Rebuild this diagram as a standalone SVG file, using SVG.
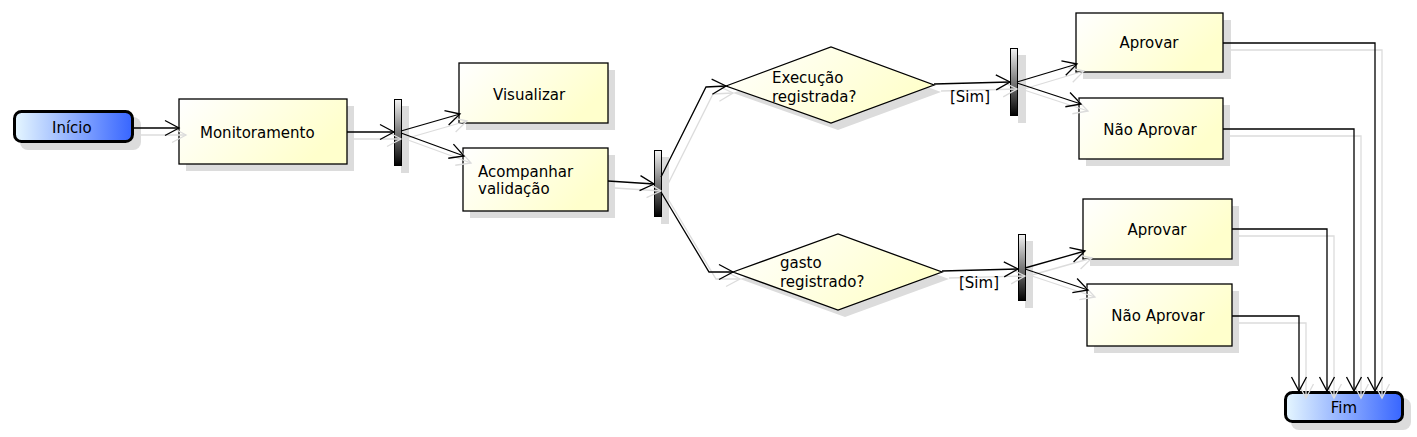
<svg xmlns="http://www.w3.org/2000/svg" width="1417" height="437" viewBox="0 0 1417 437">
<defs>
  <linearGradient id="yel" x1="0" y1="0" x2="1" y2="0.4">
    <stop offset="0" stop-color="#ffffff"/>
    <stop offset="1" stop-color="#ffffcc"/>
  </linearGradient>
  <linearGradient id="blue" x1="0" y1="0" x2="1" y2="0">
    <stop offset="0" stop-color="#e6f7ff"/>
    <stop offset="1" stop-color="#3765ff"/>
  </linearGradient>
  <linearGradient id="bar" x1="0" y1="0" x2="0" y2="1">
    <stop offset="0" stop-color="#f2f2f2"/>
    <stop offset="1" stop-color="#000000"/>
  </linearGradient>
  <marker id="ah" markerUnits="userSpaceOnUse" markerWidth="20" markerHeight="20" viewBox="-17 -10 20 20" refX="0" refY="0" orient="auto" overflow="visible">
    <path d="M-14,-7.5 L0,0 L-14,7.5" fill="none" stroke="#000" stroke-width="1.3"/>
  </marker>
  <marker id="ahs" markerUnits="userSpaceOnUse" markerWidth="20" markerHeight="20" viewBox="-17 -10 20 20" refX="0" refY="0" orient="auto" overflow="visible">
    <path d="M-14,-7.5 L0,0 L-14,7.5" fill="none" stroke="#dcdcdc" stroke-width="1.3"/>
  </marker>
</defs>
<style>
  .sh { fill: #dcdcdc; stroke: none; }
  .box { fill: url(#yel); stroke: #000; stroke-width: 1.3; }
  .term { fill: url(#blue); stroke: #000; stroke-width: 3; }
  .bar { fill: url(#bar); stroke: #000; stroke-width: 1; }
  .t { font-family: "DejaVu Sans", Verdana, sans-serif; font-size: 15px; fill: #000; }
  .c { text-anchor: middle; }
  .ln { fill: none; stroke: #000; stroke-width: 1.3; marker-end: url(#ah); }
  .lns { fill: none; stroke: #dcdcdc; stroke-width: 1.3; marker-end: url(#ahs); }
</style>
<rect width="1417" height="437" fill="#ffffff"/>

<g id="inicio">
  <rect class="sh" x="20" y="117" width="121" height="33" rx="8"/>
  <rect class="term" x="14.5" y="111.5" width="118" height="30" rx="7"/>
  <text class="t" x="52" y="133">Início</text>
</g>

<g id="monitoramento">
  <rect class="sh" x="186" y="106" width="168" height="65"/>
  <rect class="box" x="179" y="99" width="168" height="65"/>
  <text class="t" x="200" y="138">Monitoramento</text>
</g>

<g id="fork1">
  <rect class="sh" x="401" y="106" width="8" height="67"/>
  <rect class="bar" x="394.5" y="99.5" width="7" height="66"/>
</g>

<g id="visualizar">
  <rect class="sh" x="466" y="70" width="149" height="60"/>
  <rect class="box" x="459" y="63" width="149" height="60"/>
  <text class="t" x="493" y="100">Visualizar</text>
</g>

<g id="acompanhar">
  <rect class="sh" x="470" y="155" width="145" height="63"/>
  <rect class="box" x="463" y="148" width="145" height="63"/>
  <text class="t" x="478" y="177">Acompanhar</text>
  <text class="t" x="478" y="194">validação</text>
</g>

<g id="fork2">
  <rect class="sh" x="661" y="157" width="8" height="67"/>
  <rect class="bar" x="654.5" y="150.5" width="7" height="66"/>
</g>

<g id="decisao1">
  <polygon class="sh" points="733,93 838,54 941,92 838,130"/>
  <polygon class="box" points="726,86 831,47 934,85 831,123"/>
  <text class="t" x="772" y="83">Execução</text>
  <text class="t" x="772" y="102">registrada?</text>
</g>

<g id="decisao2">
  <polygon class="sh" points="740,279 845,241 949,279 845,317"/>
  <polygon class="box" points="733,272 838,234 942,272 838,310"/>
  <text class="t" x="780" y="268">gasto</text>
  <text class="t" x="780" y="287">registrado?</text>
</g>

<g id="fork3">
  <rect class="sh" x="1018" y="55" width="8" height="68"/>
  <rect class="bar" x="1010.5" y="48.5" width="7" height="67"/>
</g>

<g id="fork4">
  <rect class="sh" x="1025" y="241" width="8" height="67"/>
  <rect class="bar" x="1018.5" y="234.5" width="7" height="66"/>
</g>

<g id="aprovar1">
  <rect class="sh" x="1083" y="20" width="148" height="59"/>
  <rect class="box" x="1076" y="13" width="147" height="59"/>
  <text class="t c" x="1149" y="48">Aprovar</text>
</g>

<g id="naoAprovar1">
  <rect class="sh" x="1086" y="105" width="144" height="61"/>
  <rect class="box" x="1079" y="98" width="144" height="61"/>
  <text class="t c" x="1150" y="135">Não Aprovar</text>
</g>

<g id="aprovar2">
  <rect class="sh" x="1090" y="206" width="149" height="60"/>
  <rect class="box" x="1083" y="199" width="149" height="60"/>
  <text class="t c" x="1157" y="235">Aprovar</text>
</g>

<g id="naoAprovar2">
  <rect class="sh" x="1094" y="291" width="145" height="62"/>
  <rect class="box" x="1087" y="284" width="145" height="62"/>
  <text class="t c" x="1158" y="321">Não Aprovar</text>
</g>

<g id="fim">
  <rect class="sh" x="1291" y="398" width="120" height="32" rx="8"/>
  <rect class="term" x="1285.5" y="392.5" width="117" height="29" rx="7"/>
  <text class="t c" x="1344" y="413">Fim</text>
</g>

<g id="connectors">
  <g id="connector-shadows" transform="translate(7,7)">
    <path class="lns" d="M134,128 L179,128"/>
    <path class="lns" d="M347,132 L394,132"/>
    <path class="lns" d="M401,131 L460,114"/>
    <path class="lns" d="M401,133 L464,156"/>
    <path class="lns" d="M608,181 L654,184"/>
    <path class="lns" d="M661,177 L706,87 L726,86"/>
    <path class="lns" d="M661,192 L709,272 L733,272"/>
    <path class="lns" d="M934,84 L1010,82"/>
    <path class="lns" d="M942,271 L1018,269"/>
    <path class="lns" d="M1017,82 L1077,64"/>
    <path class="lns" d="M1017,83 L1081,104"/>
    <path class="lns" d="M1025,268 L1085,251"/>
    <path class="lns" d="M1025,269 L1088,290"/>
    <path class="lns" d="M1223,43 L1375,43 L1375,391"/>
    <path class="lns" d="M1223,129 L1354,129 L1354,391"/>
    <path class="lns" d="M1232,229 L1327,229 L1327,391"/>
    <path class="lns" d="M1232,316 L1299,316 L1299,391"/>
  </g>
  <g id="connector-lines">
    <path class="ln" d="M134,128 L179,128"/>
    <path class="ln" d="M347,132 L394,132"/>
    <path class="ln" d="M401,131 L460,114"/>
    <path class="ln" d="M401,133 L464,156"/>
    <path class="ln" d="M608,181 L654,184"/>
    <path class="ln" d="M661,177 L706,87 L726,86"/>
    <path class="ln" d="M661,192 L709,272 L733,272"/>
    <path class="ln" d="M934,84 L1010,82"/>
    <path class="ln" d="M942,271 L1018,269"/>
    <path class="ln" d="M1017,82 L1077,64"/>
    <path class="ln" d="M1017,83 L1081,104"/>
    <path class="ln" d="M1025,268 L1085,251"/>
    <path class="ln" d="M1025,269 L1088,290"/>
    <path class="ln" d="M1223,43 L1375,43 L1375,391"/>
    <path class="ln" d="M1223,129 L1354,129 L1354,391"/>
    <path class="ln" d="M1232,229 L1327,229 L1327,391"/>
    <path class="ln" d="M1232,316 L1299,316 L1299,391"/>
  </g>
  <text class="t" x="950" y="102">[Sim]</text>
  <text class="t" x="959" y="288">[Sim]</text>
</g>
</svg>
